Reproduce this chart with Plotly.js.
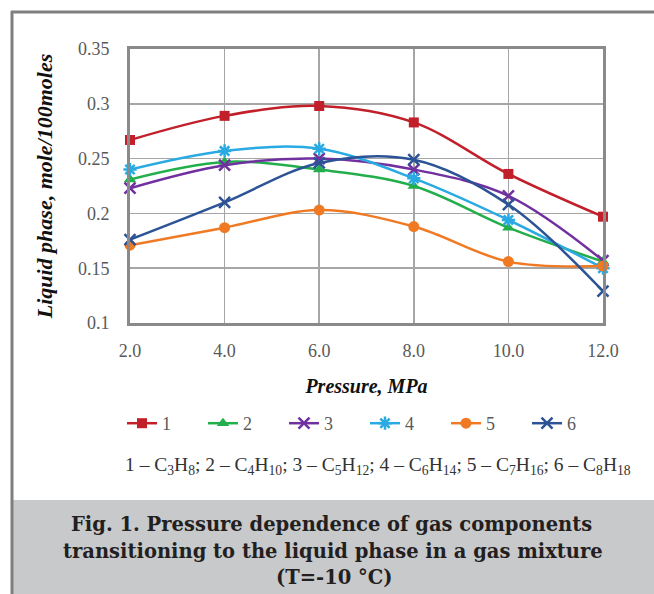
<!DOCTYPE html>
<html>
<head>
<meta charset="utf-8">
<script src="https://cdn.plot.ly/plotly-3.0.1.min.js"></script>
<style>html,body{margin:0;padding:0;background:#fff;}#chart{width:654px;height:594px;}</style>
</head>
<body>
<div id="chart"></div>
<script>
const pressure = [2, 4, 6, 8, 10, 12];
const xTickLabels = ["2.0", "4.0", "6.0", "8.0", "10.0", "12.0"];
const seriesNames = ["1", "2", "3", "4", "5", "6"];
const s1_C3H8  = [0.267, 0.289, 0.298, 0.283, 0.236, 0.197];
const s2_C4H10 = [0.231, 0.247, 0.240, 0.225, 0.187, 0.156];
const s3_C5H12 = [0.223, 0.244, 0.250, 0.240, 0.216, 0.157];
const s4_C6H14 = [0.240, 0.257, 0.259, 0.232, 0.194, 0.150];
const s5_C7H16 = [0.171, 0.187, 0.203, 0.188, 0.156, 0.152];
const s6_C8H18 = [0.176, 0.210, 0.246, 0.249, 0.208, 0.129];
const captionLines = [
  "Fig. 1. Pressure dependence of gas components",
  "transitioning to the liquid phase in a gas mixture",
  "(T=-10 °C)"
];
const formulaText = "1 – C<sub>3</sub>H<sub>8</sub>; 2 – C<sub>4</sub>H<sub>10</sub>; 3 – C<sub>5</sub>H<sub>12</sub>; 4 – C<sub>6</sub>H<sub>14</sub>; 5 – C<sub>7</sub>H<sub>16</sub>; 6 – C<sub>8</sub>H<sub>18</sub>";

// plot area in pixels
const L = 130, R = 603, T = 49, B = 323;
const W = 654, H = 594;
const px = x => (x - L) / (R - L);
const py = y => (B - y) / (B - T);

const colors = ["#C1202B", "#23AE4C", "#7030A0", "#2AAAE2", "#F07A24", "#2C5396"];
const values = [s1_C3H8, s2_C4H10, s3_C5H12, s4_C6H14, s5_C7H16, s6_C8H18];
const markers = [
  {symbol: "square", size: 10},
  {symbol: "triangle-up", size: 11},
  {symbol: "x-thin", size: 11},
  {symbol: "asterisk", size: 11},
  {symbol: "circle", size: 11},
  {symbol: "x-thin", size: 11}
];

const traces = values.map((v, i) => ({
  type: "scatter",
  mode: "lines+markers",
  x: pressure,
  y: v,
  name: seriesNames[i],
  line: {color: colors[i], width: 2.5, shape: "spline", smoothing: 1},
  marker: {
    symbol: markers[i].symbol,
    size: markers[i].size,
    color: colors[i],
    line: {color: colors[i], width: (markers[i].symbol === "x-thin" || markers[i].symbol === "asterisk") ? 2.5 : 0}
  },
  cliponaxis: false
}));

const serif = "Liberation Serif, Times New Roman, serif";

const layout = {
  width: W, height: H,
  margin: {l: L, r: W - R, t: T, b: H - B},
  paper_bgcolor: "rgba(0,0,0,0)",
  plot_bgcolor: "#ffffff",
  showlegend: true,
  legend: {
    orientation: "h",
    x: px(122), xanchor: "left",
    y: py(405), yanchor: "top",
    font: {family: serif, size: 18, color: "#595959"},
    entrywidth: 36, entrywidthmode: "pixels",
    bgcolor: "rgba(0,0,0,0)",
    tracegroupgap: 0
  },
  xaxis: {
    range: [2, 12],
    tickvals: pressure,
    ticktext: xTickLabels,
    showgrid: true, gridcolor: "#a6a6a6", gridwidth: 1.5,
    showline: true, linecolor: "#8a8a8a", linewidth: 3, mirror: true,
    ticks: "", zeroline: false,
    tickfont: {family: serif, size: 18, color: "#595959"},
    ticklabelstandoff: 9,
    title: {text: "<b><i>Pressure, MPa</i></b>", font: {family: serif, size: 20, color: "#111"}, standoff: 20}
  },
  yaxis: {
    range: [0.1, 0.35],
    tickvals: [0.1, 0.15, 0.2, 0.25, 0.3, 0.35],
    ticktext: ["0.1", "0.15", "0.2", "0.25", "0.3", "0.35"],
    showgrid: true, gridcolor: "#a6a6a6", gridwidth: 1.5,
    showline: true, linecolor: "#8a8a8a", linewidth: 3, mirror: true,
    ticks: "", zeroline: false,
    tickfont: {family: serif, size: 18, color: "#595959"},
    ticklabelstandoff: 14,
    title: {text: "<b><i>Liquid phase, mole/100moles</i></b>", font: {family: serif, size: 22, color: "#111"}, standoff: 20}
  },
  shapes: [
    // caption box
    {type: "rect", xref: "paper", yref: "paper", x0: px(13), x1: px(660), y0: py(500), y1: py(600),
     fillcolor: "#c8c9cb", line: {width: 0}, layer: "below"},
    // outer frame: left and top
    {type: "line", xref: "paper", yref: "paper", x0: px(12), x1: px(12), y0: py(11), y1: py(600),
     line: {color: "#7f7f7f", width: 3}},
    {type: "line", xref: "paper", yref: "paper", x0: px(11), x1: px(660), y0: py(12), y1: py(12),
     line: {color: "#7f7f7f", width: 3}}
  ],
  annotations: [
    {xref: "paper", yref: "paper", x: px(378), y: py(466), xanchor: "center", yanchor: "middle",
     text: formulaText, showarrow: false, font: {family: serif, size: 19.5, color: "#333333"}},
    {xref: "paper", yref: "paper", x: px(331), y: py(524), xanchor: "center", yanchor: "middle",
     text: "<b>" + captionLines[0] + "</b>", showarrow: false, font: {family: "DejaVu Serif, serif", size: 19.5, color: "#231f20"}},
    {xref: "paper", yref: "paper", x: px(333), y: py(551), xanchor: "center", yanchor: "middle",
     text: "<b>" + captionLines[1] + "</b>", showarrow: false, font: {family: "DejaVu Serif, serif", size: 19.5, color: "#231f20"}},
    {xref: "paper", yref: "paper", x: px(334), y: py(577), xanchor: "center", yanchor: "middle",
     text: "<b>" + captionLines[2] + "</b>", showarrow: false, font: {family: "DejaVu Serif, serif", size: 19.5, color: "#231f20"}}
  ]
};

Plotly.newPlot("chart", traces, layout, {displayModeBar: false, staticPlot: true});
</script>
</body>
</html>
